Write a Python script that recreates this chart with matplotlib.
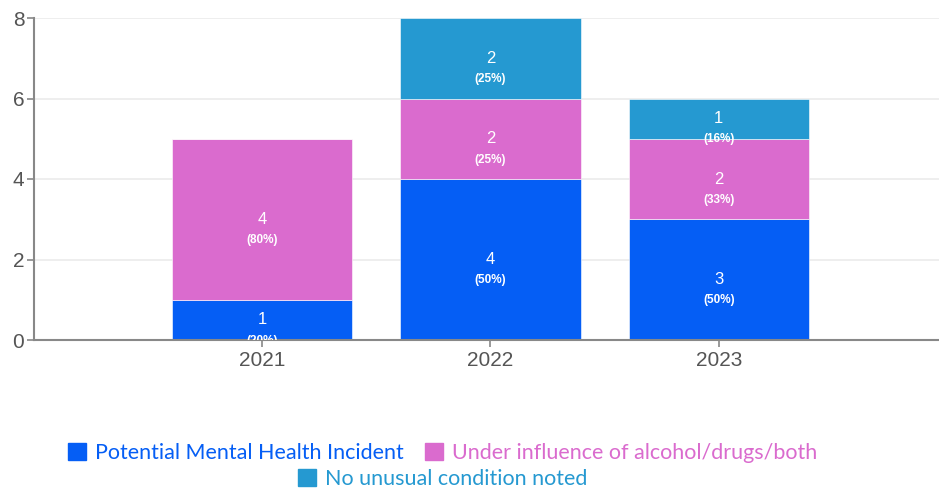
import matplotlib
matplotlib.use('Agg')
from matplotlib import pyplot as plt
from matplotlib.patches import Patch

years = ['2021', '2022', '2023']
mental_health = [1, 4, 3]
under_influence = [4, 2, 2]
no_unusual = [0, 2, 1]
pct_mental = ['(20%)', '(50%)', '(50%)']
pct_influence = ['(80%)', '(25%)', '(33%)']
pct_none = ['', '(25%)', '(16%)']

series = [
    ('Potential Mental Health Incident', mental_health, pct_mental, '#055EF5'),
    ('Under influence of alcohol/drugs/both', under_influence, pct_influence, '#DA6BCE'),
    ('No unusual condition noted', no_unusual, pct_none, '#2599D1'),
]

plt.rcParams['font.family'] = ['Liberation Sans', 'DejaVu Sans']

fig = plt.figure(figsize=(9.39, 4.88), dpi=100)
ax = fig.add_axes([34 / 939, 148 / 488, 905 / 939, 322 / 488])

x = [1, 2, 3]
bottoms = [0, 0, 0]
for name, vals, pcts, color in series:
    ax.bar(x, vals, width=0.79, bottom=bottoms, color=color, edgecolor='white',
           linewidth=0.4, zorder=2)
    for xi, v, b, p in zip(x, vals, bottoms, pcts):
        if v == 0:
            continue
        c = b + v / 2
        ax.text(xi, c, str(v), ha='center', va='center', color='white',
                fontsize=12, zorder=3)
        ax.annotate(p, (xi, c), xytext=(0, -15), textcoords='offset points',
                    ha='center', va='center', color='white', fontsize=8.5,
                    fontweight='bold', zorder=3, annotation_clip=True,
                    clip_on=True)
    bottoms = [b + v for b, v in zip(bottoms, vals)]

ax.set_xlim(0, 3.965)
ax.set_ylim(0, 8)
ax.set_yticks([0, 2, 4, 6, 8])
ax.set_xticks(x)
ax.set_xticklabels(years)
ax.grid(axis='y', color='#ebebeb', linewidth=1.2, zorder=0)
for s in ['top', 'right']:
    ax.spines[s].set_visible(False)
ax.spines['left'].set_color('#888888')
ax.spines['bottom'].set_color('#888888')
ax.spines['left'].set_linewidth(1.5)
ax.spines['bottom'].set_linewidth(1.5)
ax.tick_params(axis='y', colors='#888888', labelcolor='#555555', labelsize=15,
               length=5, width=1.2, pad=2)
ax.tick_params(axis='x', colors='#888888', labelcolor='#555555', labelsize=15,
               length=5, width=1.2, pad=3)

legend_font = {'family': 'Lato', 'size': 15.5}
handles1 = [Patch(color=series[0][3], label=series[0][0]),
            Patch(color=series[1][3], label=series[1][0])]
leg1 = fig.legend(handles=handles1, loc='center', bbox_to_anchor=(0.471, 0.072),
                  ncol=2, frameon=False, prop=legend_font, handlelength=0.85,
                  handleheight=0.85, handletextpad=0.4, columnspacing=1.0)
for t, s in zip(leg1.get_texts(), series[:2]):
    t.set_color(s[3])
handles2 = [Patch(color=series[2][3], label=series[2][0])]
leg2 = fig.legend(handles=handles2, loc='center', bbox_to_anchor=(0.471, 0.018),
                  ncol=1, frameon=False, prop=legend_font, handlelength=0.85,
                  handleheight=0.85, handletextpad=0.4)
leg2.get_texts()[0].set_color(series[2][3])

fig.savefig('out.png', dpi=100)
